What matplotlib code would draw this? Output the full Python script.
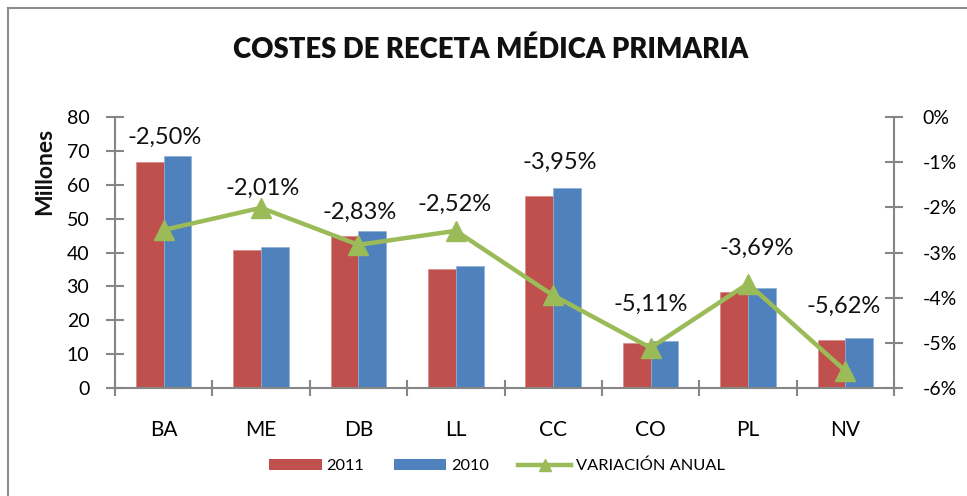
import matplotlib
matplotlib.use("Agg")
import matplotlib.pyplot as plt
import numpy as np
from matplotlib.lines import Line2D
from matplotlib.patches import Patch

plt.rcParams['font.family'] = ['Lato', 'DejaVu Sans']

categories = ["BA", "ME", "DB", "LL", "CC", "CO", "PL", "NV"]
costs_2011 = [66.8, 40.7, 45.0, 35.2, 56.6, 13.2, 28.3, 14.1]
costs_2010 = [68.4, 41.6, 46.3, 36.1, 58.9, 13.9, 29.4, 14.8]
variation = [-2.50, -2.01, -2.83, -2.52, -3.95, -5.11, -3.69, -5.62]
variation_labels = ["-2,50%", "-2,01%", "-2,83%", "-2,52%", "-3,95%", "-5,11%", "-3,69%", "-5,62%"]
left_ticks = [0, 10, 20, 30, 40, 50, 60, 70, 80]
right_ticks = [0, -1, -2, -3, -4, -5, -6]

# label offsets in pixels (style, not data)
label_offsets = [(1, -93), (2, -19), (1, -32), (-1, -26), (7, -133), (0, -43), (9, -35), (-2, -64)]

RED = "#C0504D"
BLUE = "#4F81BD"
GREEN = "#9BBB59"
GRAY = "#868686"

W, H = 967, 496
fig = plt.figure(figsize=(W / 100, H / 100), dpi=100)
fig.patch.set_facecolor("white")

# chart border (only top/left visible in reference)
fig.add_artist(plt.Line2D([8 / W, 8 / W], [0, 1 - 8 / H], transform=fig.transFigure, color="#8c8c8c", lw=1.5))
fig.add_artist(plt.Line2D([8 / W, 1], [1 - 8 / H, 1 - 8 / H], transform=fig.transFigure, color="#8c8c8c", lw=1.5))

ax = fig.add_axes([115 / W, 1 - 388 / H, (894 - 115) / W, (388 - 117) / H])
x = np.arange(len(categories))
bw = 0.285
ax.bar(x - bw / 2, costs_2011, width=bw, color=RED, edgecolor="#d88a88", linewidth=0.5, zorder=2)
ax.bar(x + bw / 2, costs_2010, width=bw, color=BLUE, edgecolor="#8fb0d8", linewidth=0.5, zorder=2)
ax.set_xlim(-0.5, len(categories) - 0.5)
ax.set_ylim(0, 80)
ax.set_yticks(left_ticks)
ax.set_yticklabels([str(t) for t in left_ticks], fontsize=14)
ax.set_xticks(np.arange(len(categories) + 1) - 0.5)
ax.set_xticklabels([])
ax.set_xticks(x, minor=True)
ax.set_xticklabels(categories, minor=True, fontsize=15)
ax.tick_params(axis='x', which='major', direction='inout', length=12, color=GRAY, width=1.5)
ax.tick_params(axis='x', which='minor', length=0, pad=23)
ax.tick_params(axis='y', direction='inout', length=13, color=GRAY, width=1.5, pad=12)
for s in ["top", "right"]:
    ax.spines[s].set_visible(False)
for s in ["left", "bottom"]:
    ax.spines[s].set_color(GRAY)
    ax.spines[s].set_linewidth(1.5)

ax2 = ax.twinx()
ax2.set_ylim(-6, 0)
ax2.set_yticks(right_ticks)
ax2.set_yticklabels([f"{t}%" for t in right_ticks], fontsize=14)
ax2.tick_params(axis='y', direction='inout', length=13, color=GRAY, width=1.5, pad=14)
for s in ["top", "left", "bottom"]:
    ax2.spines[s].set_visible(False)
ax2.spines["right"].set_color(GRAY)
ax2.spines["right"].set_linewidth(1.5)
ax2.plot(x, variation, color=GREEN, lw=3.2, marker="^", markersize=14, zorder=3)
for xi, v, lab, (dx, dy) in zip(x, variation, variation_labels, label_offsets):
    ax2.annotate(lab, (xi, v), xytext=(dx, -dy), textcoords="offset pixels",
                 ha="center", va="center", fontsize=17, color="#111111")

fig.text(491 / W, 1 - 50 / H, "COSTES DE RECETA MÉDICA PRIMARIA", ha="center", va="center",
         fontsize=19.8, fontweight="heavy", color="#111111")
fig.text(45 / W, 1 - 171 / H, "Millones", rotation=90, ha="center", va="center",
         fontsize=16.5, fontweight="bold", color="#111111")

handles = [Patch(facecolor=RED, edgecolor="none"),
           Patch(facecolor=BLUE, edgecolor="none"),
           Line2D([], [], color=GREEN, lw=3.2, marker="^", markersize=9)]
fig.legend(handles, ["2011", "2010", "VARIACIÓN ANUAL"], loc="center", bbox_to_anchor=(497 / W, 1 - 466 / H),
           ncol=3, frameon=False, fontsize=11.8, handlelength=3.2, handleheight=0.6, handletextpad=0.3,
           columnspacing=1.8)

fig.savefig("out.png", dpi=100)
